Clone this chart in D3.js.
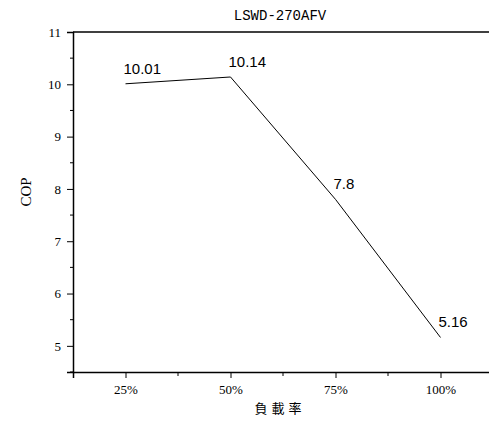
<!DOCTYPE html>
<html>
<head>
<meta charset="utf-8">
<script src="https://cdn.jsdelivr.net/npm/d3@7"></script>
<style>
  body { margin: 0; background: #fff; }
  svg { display: block; }
</style>
</head>
<body>
<svg width="489" height="425"></svg>
<script>
// chart data
var categories = ["25%", "50%", "75%", "100%"];
var cop = [10.01, 10.14, 7.8, 5.16];
var yTicks = [5, 6, 7, 8, 9, 10, 11];
var yMinor = [4.5, 5.5, 6.5, 7.5, 8.5, 9.5, 10.5];

var svg = d3.select("svg");
var plotLeft = 73, plotTop = 32, plotBottom = 372, plotRight = 493;

var x = d3.scaleLinear().domain([-0.5, 3.5]).range([plotLeft, plotRight]);
var y = d3.scaleLinear().domain([4.5, 11]).range([plotBottom, plotTop]);

// top frame line
svg.append("line")
    .attr("x1", plotLeft).attr("x2", plotRight)
    .attr("y1", plotTop).attr("y2", plotTop)
    .attr("stroke", "#000").attr("stroke-width", 1.5);

// y axis
var yAxis = svg.append("g")
    .attr("transform", "translate(" + plotLeft + ",0)")
    .call(d3.axisLeft(y).tickValues(yTicks).tickSize(6).tickPadding(6).tickFormat(d3.format("d")));
yAxis.select(".domain").attr("stroke-width", 1.5);
yAxis.selectAll("text").attr("font-family", "Liberation Serif").attr("font-size", 13).attr("fill", "#000");
yAxis.selectAll(".minor")
    .data(yMinor).enter().append("line")
    .attr("x1", 0).attr("x2", -3)
    .attr("y1", function(d) { return y(d); })
    .attr("y2", function(d) { return y(d); })
    .attr("stroke", "#000");

// x axis
var xAxis = svg.append("g")
    .attr("transform", "translate(0," + plotBottom + ")")
    .call(d3.axisBottom(x).tickValues([0, 1, 2, 3]).tickSize(6).tickPadding(7)
        .tickFormat(function(i) { return categories[i]; }));
xAxis.select(".domain").attr("stroke-width", 1.5);
xAxis.selectAll("text").attr("font-family", "Liberation Serif").attr("font-size", 13).attr("fill", "#000");
xAxis.selectAll(".minor")
    .data([0.5, 1.5, 2.5]).enter().append("line")
    .attr("x1", function(d) { return x(d); })
    .attr("x2", function(d) { return x(d); })
    .attr("y1", 0).attr("y2", 4)
    .attr("stroke", "#000");

// line
var line = d3.line()
    .x(function(d, i) { return x(i); })
    .y(function(d) { return y(d); });

svg.append("path")
    .datum(cop)
    .attr("d", line)
    .attr("fill", "none")
    .attr("stroke", "#000")
    .attr("stroke-width", 1);

// value labels
svg.selectAll(".val")
    .data(cop).enter().append("text")
    .attr("class", "val")
    .attr("x", function(d, i) { return x(i) - 2; })
    .attr("y", function(d) { return y(d) - 10; })
    .attr("font-family", "Liberation Sans")
    .attr("font-size", 15)
    .text(function(d) { return d; });

// title
svg.append("text")
    .attr("x", 280).attr("y", 20)
    .attr("text-anchor", "middle")
    .attr("font-family", "Liberation Mono")
    .attr("font-size", 14)
    .text("LSWD-270AFV");

// axis titles
svg.append("text")
    .attr("x", 280).attr("y", 413)
    .attr("text-anchor", "middle")
    .attr("font-family", "Noto Sans CJK TC")
    .attr("font-size", 13)
    .attr("letter-spacing", 4)
    .text("負載率");

svg.append("text")
    .attr("transform", "translate(31,192) rotate(-90)")
    .attr("text-anchor", "middle")
    .attr("font-family", "Liberation Serif")
    .attr("font-size", 15)
    .text("COP");
</script>
</body>
</html>
